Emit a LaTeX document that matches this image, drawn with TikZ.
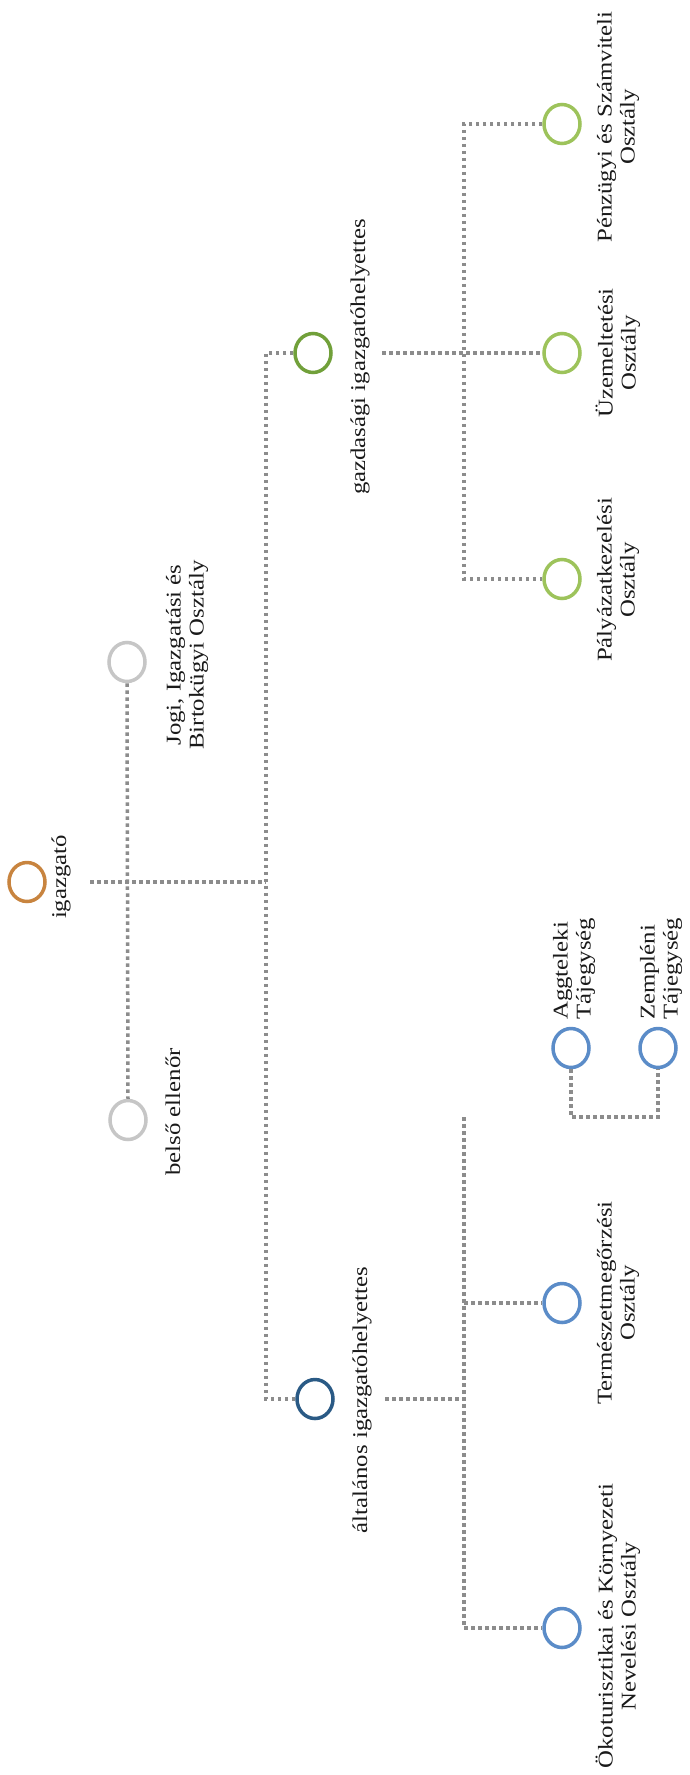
\documentclass[tikz,border=0pt]{standalone}
\usepackage{fontspec}
\setmainfont{Liberation Serif}[FakeStretch=1.18]
\usetikzlibrary{shapes.geometric}
\definecolor{linegray}{HTML}{8C8C8C}
\definecolor{cOrange}{HTML}{C8843F}
\definecolor{cGray}{HTML}{C6C6C6}
\definecolor{cOlive}{HTML}{71A03A}
\definecolor{cLgreen}{HTML}{9DC35B}
\definecolor{cDblue}{HTML}{2A5A85}
\definecolor{cBlue}{HTML}{5B8CC8}
\definecolor{textcol}{HTML}{1A1A1A}
\begin{document}
\begin{tikzpicture}[x=1pt,y=-1pt,
  conn/.style={draw=linegray, line width=3.5pt, dash pattern=on 3.5pt off 3.5pt},
  circ/.style={draw, ellipse, line width=3.5pt, minimum width=36pt, minimum height=39pt, inner sep=0pt},
  lbl/.style={rotate=90, align=center, font=\fontsize{21}{23}\selectfont, text=textcol, inner sep=0pt},
]
\useasboundingbox[fill=white] (0,0) rectangle (690,1775);

% circles
\node[circ, draw=cOrange] (igz) at (27,882) {};
\node[circ, draw=cGray] (jogi) at (127,662) {};
\node[circ, draw=cGray] (belso) at (128,1120) {};
\node[circ, draw=cOlive] (gazd) at (313,353) {};
\node[circ, draw=cDblue] (alt) at (315,1399) {};
\node[circ, draw=cLgreen] (penz) at (562,124) {};
\node[circ, draw=cLgreen] (uzem) at (562,353) {};
\node[circ, draw=cLgreen] (paly) at (562,579) {};
\node[circ, draw=cBlue] (term) at (562,1303) {};
\node[circ, draw=cBlue] (oko) at (562,1628) {};
\node[circ, draw=cBlue] (aggt) at (571,1048) {};
\node[circ, draw=cBlue] (zemp) at (658,1048) {};

% labels
\node[lbl] (t-igz) at (61,877) {igazgató};
\node[lbl] (t-jogi) at (187,655) {Jogi, Igazgatási és\\Birtokügyi Osztály};
\node[lbl] (t-belso) at (173,1112) {belső ellenőr};
\node[lbl] (t-gazd) at (360,357) {gazdasági igazgatóhelyettes};
\node[lbl] (t-alt) at (362,1400) {általános igazgatóhelyettes};
\node[lbl] (t-penz) at (618,127) {Pénzügyi és Számviteli\\Osztály};
\node[lbl] (t-uzem) at (618,353) {Üzemeltetési\\Osztály};
\node[lbl] (t-paly) at (618,580) {Pályázatkezelési\\Osztály};
\node[lbl] (t-term) at (618,1303) {Természetmegőrzési\\Osztály};
\node[lbl] (t-oko) at (618,1626) {Ökoturisztikai és Környezeti\\Nevelési Osztály};
\node[lbl, align=left, anchor=west] (t-aggt) at (574,1020) {Aggteleki\\Tájegység};
\node[lbl, align=left, anchor=west] (t-zemp) at (661,1020) {Zempléni\\Tájegység};

% junctions
\coordinate (igzout) at (90,882);
\coordinate (igzJ) at (266,882);
\coordinate (gout) at (382,353);
\coordinate (gJ) at (464,353);
\coordinate (aout) at (385,1399);
\coordinate (aJ) at (464,1399);
\coordinate (tJ) at (464,1117);

% connectors
\draw[conn] (igzout) -- (igzJ);
\draw[conn] (jogi.south) -- (belso.north);
\draw[conn] (gazd.west) -- (gazd.west -| igzJ) -- (alt.west -| igzJ) -- (alt.west);
\draw[conn] (gout) -- (uzem.west);
\draw[conn] (penz.west) -- (penz.west -| gJ) -- (paly.west -| gJ) -- (paly.west);
\draw[conn] (aout) -- (aJ);
\draw[conn] (aggt.south) -- (aggt.south |- tJ) -- (zemp.south |- tJ) -- (zemp.south);
\draw[conn] (tJ) -- (oko.west -| tJ) -- (oko.west);
\draw[conn] (term.west -| tJ) -- (term.west);
\end{tikzpicture}
\end{document}
